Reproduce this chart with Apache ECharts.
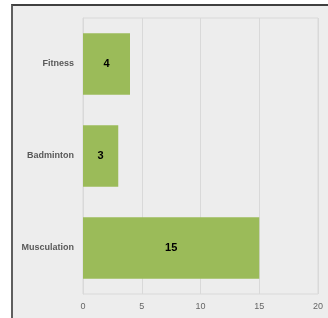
<!DOCTYPE html>
<html>
<head>
<meta charset="utf-8">
<script src="https://cdn.jsdelivr.net/npm/echarts@6/dist/echarts.min.js"></script>
<style>
  html, body { margin: 0; padding: 0; background: #ffffff; }
  #frame {
    position: absolute; left: 11px; top: 4px; width: 317px; height: 314px;
    background: #ededed; border-left: 2px solid #5f5f5f; border-top: 2px solid #404040;
    box-sizing: border-box;
  }
  #main { position: absolute; left: 0; top: 0; width: 328px; height: 318px; }
</style>
</head>
<body>
<div id="frame"></div>
<div id="main"></div>
<script>
// categories (top to bottom) and values
var categories = ["Fitness", "Badminton", "Musculation"];
var values = [4, 3, 15];
var xTicks = [0, 5, 10, 15, 20];

var myChart = echarts.init(document.getElementById("main"));
myChart.setOption({
  animation: false,
  grid: {
    left: 83,
    right: 10,
    top: 18,
    bottom: 24,
    show: true,
    borderColor: "#d9d9d9",
    borderWidth: 1,
    backgroundColor: "transparent"
  },
  xAxis: {
    type: "value",
    min: xTicks[0],
    max: xTicks[xTicks.length - 1],
    interval: 5,
    axisLine: { show: false },
    axisTick: { show: false },
    axisLabel: {
      color: "#666666",
      fontSize: 9,
      margin: 8,
      fontFamily: "Liberation Sans"
    },
    splitLine: { lineStyle: { color: "#d9d9d9", width: 1 } }
  },
  yAxis: {
    type: "category",
    inverse: true,
    data: categories,
    axisLine: { show: true, lineStyle: { color: "#d9d9d9" } },
    axisTick: { show: false },
    axisLabel: {
      color: "#595959",
      fontSize: 9,
      fontWeight: "bold",
      margin: 9,
      fontFamily: "Liberation Sans"
    }
  },
  series: [
    {
      type: "bar",
      data: values,
      barCategoryGap: "33%",
      itemStyle: { color: "#9bbb59" },
      label: {
        show: true,
        position: "inside",
        color: "#000000",
        fontWeight: "bold",
        fontSize: 11,
        fontFamily: "Liberation Sans"
      }
    }
  ]
});
</script>
</body>
</html>
